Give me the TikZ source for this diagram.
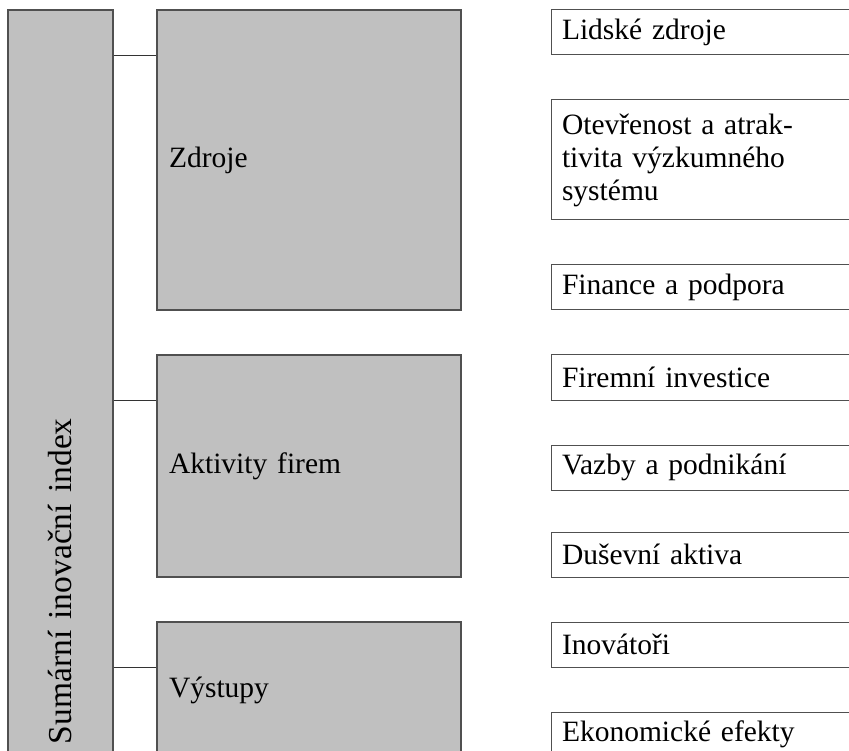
\documentclass[tikz,border=0pt]{standalone}
\usepackage{fontspec}
\setmainfont{Liberation Serif}
\usetikzlibrary{positioning}
\definecolor{boxgray}{HTML}{C0C0C0}
\definecolor{edgegray}{HTML}{505050}
\definecolor{linkgray}{HTML}{333333}

\begin{document}
\begin{tikzpicture}[x=1pt,y=-1pt,
  pillar/.style={draw=edgegray,fill=boxgray,line width=1.2pt,rotate=90,
    minimum width=748pt,minimum height=105pt,text width=720pt,align=left,
    inner xsep=14pt,font=\fontsize{33.5}{38}\selectfont},
  group/.style={draw=edgegray,fill=boxgray,line width=1.2pt,minimum width=304pt,
    text width=280pt,align=left,inner xsep=12pt,font=\fontsize{29.5}{34}\selectfont},
  item/.style={draw=edgegray,line width=1pt,minimum width=349pt,minimum height=45pt,
    text width=327pt,align=left,inner xsep=11pt,inner ysep=0pt,
    font=\fontsize{29.5}{33}\selectfont},
  link/.style={line width=1.2pt,linkgray}]
\clip (0,0) rectangle (849,751);
\node[pillar] (sii) at (60.5,384) {Sumární inovační index};
\node[group,minimum height=300pt] (zdr) at (309,160) {Zdroje};
\node[group,minimum height=222pt] (akt) at (309,466) {Aktivity firem};
\node[group,minimum height=136pt] (vys) at (309,690) {Výstupy};
\node[item] (r1) at (725.5,32.5) {Lidské zdroje};
\node[item,minimum height=120pt] (r2) at (725.5,160) {Otevřenost a atrak-\\tivita výzkumného\\systému};
\node[item] (r3) at (725.5,287.5) {Finance a podpora};
\node[item] (r4) at (725.5,377.5) {Firemní investice};
\node[item] (r5) at (725.5,467.5) {Vazby a podnikání};
\node[item] (r6) at (725.5,554.5) {Duševní aktiva};
\node[item] (r7) at (725.5,644.5) {Inovátoři};
\node[item] (r8) at (725.5,734.5) {Ekonomické efekty};
\draw[link] (sii.south |- r1.south) -- (zdr.west |- r1.south);
\draw[link] (sii.south |- r4.south) -- (akt.west |- r4.south);
\draw[link] (sii.south |- r7.south) -- (vys.west |- r7.south);
\end{tikzpicture}
\end{document}
